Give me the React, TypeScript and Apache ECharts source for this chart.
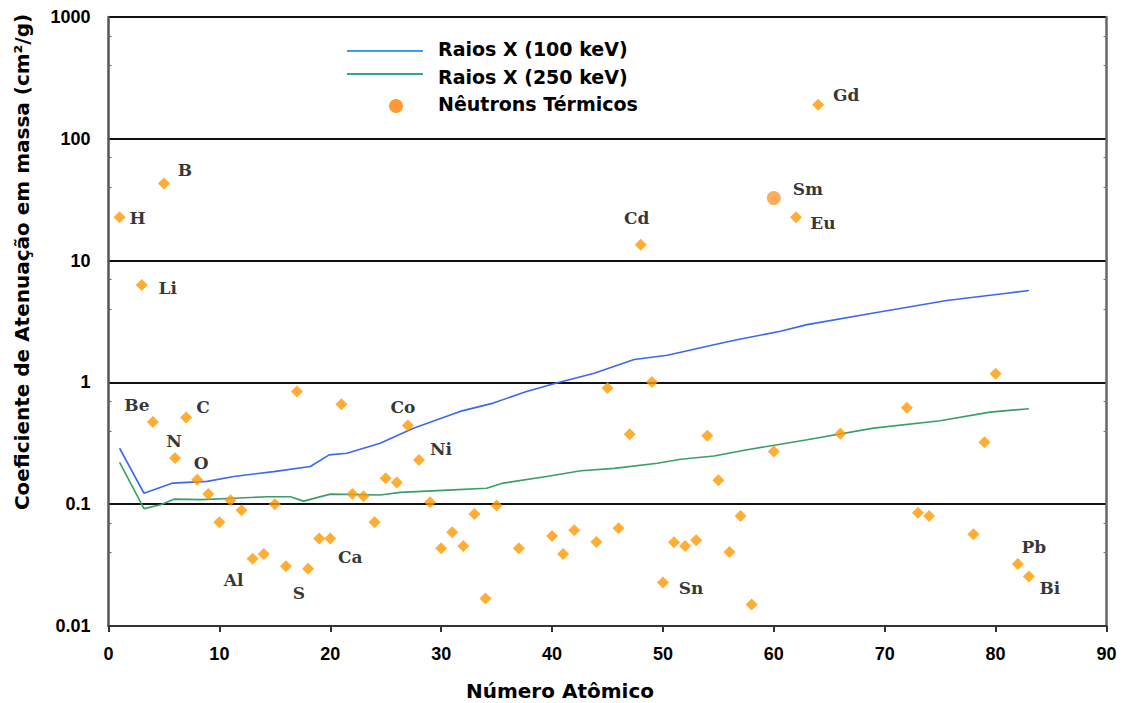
import React, { useEffect, useRef } from "react";
import * as echarts from "echarts";

// ---------- data ----------
const yTickLabels = ["0.01", "0.1", "1", "10", "100", "1000"];

const seriesNames = ["Raios X (100 keV)", "Raios X (250 keV)", "Nêutrons Térmicos"];

// X-ray 100 keV: [atomic number, mass attenuation]
const xray100Z = [1, 3.2, 5.8, 8.9, 11.3, 14.9, 18.2, 19.9, 21.5, 24.5, 27.5, 31.7, 34.7, 37.7, 40.4, 43.8, 47.4, 50.4, 54.6, 57, 60.6, 63, 69, 75.6, 81, 83];
const xray100Val = [0.288, 0.123, 0.149, 0.154, 0.169, 0.185, 0.204, 0.254, 0.262, 0.317, 0.421, 0.578, 0.676, 0.843, 0.987, 1.19, 1.54, 1.67, 2.04, 2.27, 2.63, 2.98, 3.71, 4.7, 5.4, 5.68];

// X-ray 250 keV
const xray250Z = [1, 3.2, 4.7, 5.9, 8.3, 11.3, 14.3, 16.4, 17.6, 20, 24.5, 26.3, 31.1, 34.1, 35.6, 39.5, 42.6, 45.6, 49.5, 51.6, 54.6, 57.6, 60.6, 63, 69, 75, 79.5, 83];
const xray250Val = [0.22, 0.092, 0.099, 0.11, 0.109, 0.112, 0.115, 0.115, 0.106, 0.121, 0.119, 0.125, 0.131, 0.135, 0.149, 0.169, 0.188, 0.197, 0.217, 0.234, 0.249, 0.28, 0.311, 0.338, 0.421, 0.484, 0.57, 0.608];

// Thermal neutrons
const neutronZ = [1, 3, 4, 5, 6, 7, 8, 9, 10, 11, 12, 13, 14, 15, 16, 17, 18, 19, 20, 21, 22, 23, 24, 25, 26, 27, 28, 29, 30, 31, 32, 33, 34, 35, 37, 40, 41, 42, 44, 45, 46, 47, 48, 49, 50, 51, 52, 53, 54, 55, 56, 57, 58, 60, 60, 62, 64, 66, 72, 73, 74, 78, 79, 80, 82, 83];
const neutronVal = [22.7, 6.3, 0.472, 43, 0.239, 0.515, 0.159, 0.121, 0.071, 0.108, 0.089, 0.0357, 0.039, 0.1, 0.031, 0.84, 0.0295, 0.0524, 0.0524, 0.663, 0.121, 0.116, 0.071, 0.163, 0.151, 0.443, 0.231, 0.104, 0.0434, 0.0588, 0.0454, 0.083, 0.0168, 0.0976, 0.0434, 0.0548, 0.039, 0.061, 0.049, 0.9, 0.0634, 0.376, 13.5, 1.006, 0.0228, 0.0486, 0.0454, 0.0505, 0.364, 0.157, 0.0405, 0.08, 0.015, 0.271, 32.6, 22.7, 190, 0.378, 0.619, 0.085, 0.08, 0.0566, 0.323, 1.18, 0.0323, 0.0255];
const neutronNames = ["H", "Li", "Be", "B", "N", "C", "O", "", "", "", "", "Al", "", "", "S", "", "", "", "Ca", "", "", "", "", "", "", "Co", "Ni", "", "", "", "", "", "", "", "", "", "", "", "", "", "", "", "Cd", "", "Sn", "", "", "", "", "", "", "", "", "", "Sm", "Eu", "Gd", "", "", "", "", "", "", "", "Pb", "Bi"];

// ---------- styles ----------
const labelOffsets: Record<string, [number, number]> = {
  H: [18, 1], Li: [26, 3], Be: [-16, -17], B: [21, -13], N: [-1, -17], C: [17, -11], O: [4, -17],
  Al: [-19, 21], S: [13, 27], Ca: [20, 19], Co: [-5, -18], Ni: [22, -11], Cd: [-4, -27],
  Sn: [28, 6], Sm: [34, -9], Eu: [27, 6], Gd: [28, -10], Pb: [16, -17], Bi: [21, 12],
};
const circleMarked = ["Sm"];

const BLUE = "#3a68f5";
const GREEN = "#3a9e68";
const ORANGE = "#ff9900";
const SANS = "DejaVu Sans";
const TICKFONT = "Liberation Sans";

export default function App() {
  const ref = useRef<HTMLDivElement>(null);
  useEffect(() => {
    if (!ref.current) return;
    const chart = echarts.init(ref.current, null, { renderer: "svg" });

    const neutronData = neutronZ.map((z, i) => {
      const name = neutronNames[i];
      const isCircle = circleMarked.includes(name);
      const item: any = {
        value: [z, neutronVal[i]],
        symbol: isCircle ? "circle" : "diamond",
        symbolSize: isCircle ? 14 : 12,
        itemStyle: { color: isCircle ? "#ff9933" : ORANGE },
      };
      if (name) {
        const off = labelOffsets[name] || [15, 0];
        item.label = {
          show: true,
          position: "inside",
          offset: off,
          formatter: name,
          fontFamily: "DejaVu Serif",
          fontWeight: "bold",
          fontSize: 17,
          color: "#000",
          textBorderWidth: 0,
          textBorderColor: "transparent",
          align: "center",
          verticalAlign: "middle",
        };
      }
      return item;
    });

    const yLabelFmt = (v: number) => {
      const idx = Math.round(Math.log10(v)) + 2;
      return yTickLabels[idx] ?? String(v);
    };

    const option: any = {
      animation: false,
      backgroundColor: "#ffffff",
      grid: { left: 108.5, right: 17.5, top: 17, bottom: 77 },
      xAxis: {
        type: "value",
        min: 0,
        max: 90,
        interval: 10,
        axisLine: { show: true, onZero: false, lineStyle: { color: "#333", width: 2 } },
        axisTick: { show: true, length: 6, lineStyle: { color: "#333", width: 2 } },
        axisLabel: { margin: 19, fontFamily: TICKFONT, fontWeight: "bold", fontSize: 18, color: "#000" },
        splitLine: { show: false },
      },
      yAxis: [
        {
          type: "log",
          logBase: 10,
          min: 0.01,
          max: 1000,
          axisLine: { show: true, lineStyle: { color: "#555", width: 2.5 } },
          axisTick: { show: false, inside: true },
          minorTick: { show: true, splitNumber: 3, length: 3, lineStyle: { color: "#666", width: 1 } },
          splitLine: { show: true, lineStyle: { color: "#111", width: 2 } },
          minorSplitLine: { show: false },
          axisLabel: { margin: 18, fontFamily: TICKFONT, fontWeight: "bold", fontSize: 18, color: "#000", formatter: yLabelFmt },
        },
        {
          type: "log",
          logBase: 10,
          min: 0.01,
          max: 1000,
          position: "right",
          axisLine: { show: true, lineStyle: { color: "#666", width: 2.5 } },
          axisTick: { show: false, inside: true },
          minorTick: { show: true, splitNumber: 3, length: 3, lineStyle: { color: "#777", width: 1 } },
          splitLine: { show: false },
          axisLabel: { show: false },
        },
      ],
      series: [
        {
          name: seriesNames[0],
          type: "line",
          yAxisIndex: 0,
          symbol: "none",
          data: xray100Z.map((z, i) => [z, xray100Val[i]]),
          lineStyle: { color: BLUE, width: 1.6 },
          z: 3,
        },
        {
          name: seriesNames[1],
          type: "line",
          yAxisIndex: 0,
          symbol: "none",
          data: xray250Z.map((z, i) => [z, xray250Val[i]]),
          lineStyle: { color: GREEN, width: 1.6 },
          z: 3,
        },
        {
          name: seriesNames[2],
          type: "scatter",
          yAxisIndex: 0,
          data: neutronData,
          z: 4,
        },
      ],
      graphic: [
        // legend
        { type: "line", shape: { x1: 347, y1: 51, x2: 423, y2: 51 }, style: { stroke: "#3a9cf2", lineWidth: 2 } },
        { type: "line", shape: { x1: 347, y1: 74, x2: 423, y2: 74 }, style: { stroke: "#2fa59a", lineWidth: 2 } },
        { type: "circle", shape: { cx: 396, cy: 106, r: 7 }, style: { fill: "#ff9933" } },
        { type: "text", x: 438, y: 49, style: { text: seriesNames[0], font: `bold 19px "${SANS}"`, fill: "#000", verticalAlign: "middle" } },
        { type: "text", x: 438, y: 77, style: { text: seriesNames[1], font: `bold 19px "${SANS}"`, fill: "#000", verticalAlign: "middle" } },
        { type: "text", x: 438, y: 104, style: { text: seriesNames[2], font: `bold 19px "${SANS}"`, fill: "#000", verticalAlign: "middle" } },
        // axis titles
        { type: "text", x: 560, y: 691, style: { text: "Número Atômico", font: `bold 20px "${SANS}"`, fill: "#000", align: "center", verticalAlign: "middle" } },
        {
          type: "text",
          x: 22,
          y: 262,
          rotation: Math.PI / 2,
          style: { text: "Coeficiente de Atenuação em massa (cm²/g)", font: `bold 20px "${SANS}"`, fill: "#000", align: "center", verticalAlign: "middle" },
        },
      ],
    };

    chart.setOption(option);
    return () => chart.dispose();
  }, []);

  return (
    <div
      ref={ref}
      style={{ position: "absolute", left: 0, top: 0, width: 1124, height: 703, background: "#fff" }}
    />
  );
}
